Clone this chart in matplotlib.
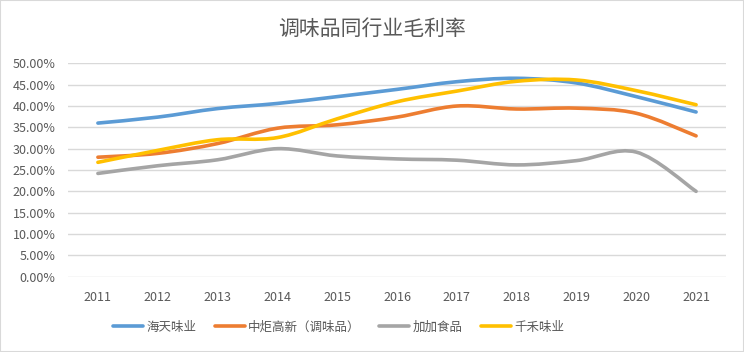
import numpy as np
import matplotlib
matplotlib.use("Agg")
from matplotlib import pyplot as plt
from matplotlib.path import Path
from matplotlib.patches import PathPatch, Rectangle
from matplotlib.lines import Line2D
from matplotlib.ticker import FuncFormatter

plt.rcParams['font.family'] = ['Noto Sans CJK SC', 'DejaVu Sans']

years = [2011, 2012, 2013, 2014, 2015, 2016, 2017, 2018, 2019, 2020, 2021]
haitian = [36.0, 37.4, 39.4, 40.6, 42.2, 43.9, 45.7, 46.5, 45.4, 42.2, 38.6]
zhongju = [28.0, 28.9, 31.2, 34.8, 35.6, 37.4, 40.0, 39.3, 39.5, 38.3, 33.0]
jiajia = [24.2, 26.0, 27.4, 30.0, 28.3, 27.6, 27.3, 26.2, 27.2, 29.2, 20.0]
qianhe = [26.8, 29.6, 32.1, 32.6, 37.0, 41.0, 43.5, 45.8, 46.1, 43.6, 40.3]

series_names = ['海天味业', '中炬高新（调味品）', '加加食品', '千禾味业']
series_values = [haitian, zhongju, jiajia, qianhe]
colors = ['#5B9BD5', '#ED7D31', '#A5A5A5', '#FFC000']
text_color = '#595959'


def smooth_path(xs, ys):
    # Excel-style smoothed line: cubic Bezier through every point
    pts = np.column_stack([xs, ys]).astype(float)
    verts = [pts[0]]
    codes = [Path.MOVETO]
    n = len(pts)
    for i in range(n - 1):
        p0 = pts[i - 1] if i > 0 else pts[i]
        p1 = pts[i]
        p2 = pts[i + 1]
        p3 = pts[i + 2] if i + 2 < n else pts[i + 1]
        c1 = p1 + (p2 - p0) / 6.0
        c2 = p2 - (p3 - p1) / 6.0
        verts += [c1, c2, p2]
        codes += [Path.CURVE4] * 3
    return Path(verts, codes)


fig = plt.figure(figsize=(7.44, 3.52), dpi=100)
ax = fig.add_axes([0.0914, 0.214, 0.8844, 0.606])

for name, vals, color in zip(series_names, series_values, colors):
    patch = PathPatch(smooth_path(years, vals), facecolor='none', edgecolor=color,
                      lw=2.6, capstyle='round', joinstyle='round', zorder=3)
    ax.add_patch(patch)

ax.set_xlim(2010.5, 2021.5)
ax.set_ylim(0, 50)
ax.set_xticks(years)
ax.set_yticks(np.arange(0, 51, 5))
ax.yaxis.set_major_formatter(FuncFormatter(lambda v, p: f"{v:.2f}%"))
ax.grid(axis='y', color='#d9d9d9', lw=1)
ax.set_axisbelow(True)
for s in ax.spines.values():
    s.set_visible(False)
ax.tick_params(length=0, colors=text_color, labelsize=9)
ax.tick_params(axis='x', pad=10)
ax.tick_params(axis='y', pad=9)

fig.text(0.5, 0.918, '调味品同行业毛利率', ha='center', va='center',
         fontsize=15, color=text_color)

handles = [Line2D([], [], color=c, lw=2.6, solid_capstyle='round') for c in colors]
fig.legend(handles, series_names, loc='center', bbox_to_anchor=(0.455, 0.071),
           ncol=4, frameon=False, fontsize=9, labelcolor=text_color,
           handlelength=2.4, handletextpad=0.25, columnspacing=1.5)

fig.patches.append(Rectangle((0, 0), 1, 1, transform=fig.transFigure, fill=False,
                             edgecolor='#d9d9d9', lw=1.5))

fig.savefig('out.png', dpi=100)
